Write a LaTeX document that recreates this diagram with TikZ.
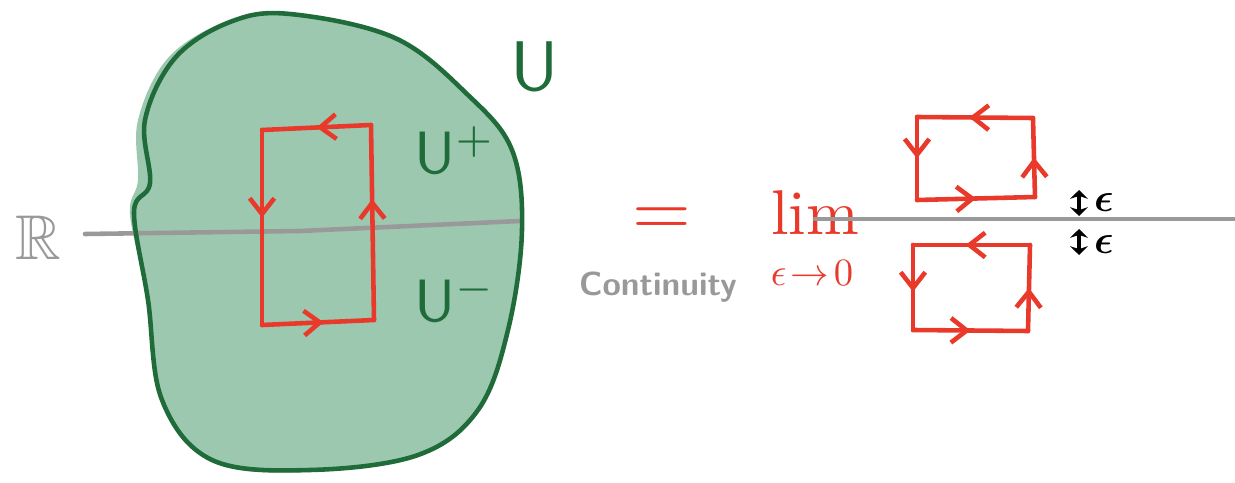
\documentclass[tikz,border=0pt]{standalone}
\usepackage{amssymb,bm}
\usetikzlibrary{arrows.meta,decorations.markings}
\definecolor{blobfill}{HTML}{9CC8B0}
\definecolor{blobline}{HTML}{1F6B3A}
\definecolor{redink}{HTML}{E8392B}
\definecolor{grayink}{HTML}{999999}
\tikzset{
  redloop/.style={draw=redink,line width=2.6pt,line cap=round,line join=round},
  midarrow/.style={postaction={decorate},decoration={markings,
     mark=at position #1 with {\arrow{Straight Barb[length=9pt,width=14pt,line width=2.6pt]}}}},
  grayline/.style={draw=grayink,line width=2.6pt,line cap=round},
  epsarrow/.style={line width=2.2pt,{Stealth[length=5pt,width=10pt]}-{Stealth[length=5pt,width=10pt]}},
  lbl/.style={inner sep=0pt,outer sep=0pt}
}
\begin{document}
\begin{tikzpicture}[x=0.02cm,y=-0.02cm]
\useasboundingbox (0,0) rectangle (1235,483);
% blob fill (slightly offset)
\fill[blobfill] plot[smooth cycle,tension=0.6] coordinates {
 (285,14) (395,38) (468,95) (512,150) (522,230) (508,330) (478,410) (418,455)
 (310,472) (212,462) (162,400) (148,300) (130,215) (138,180) (138,120) (168,58) (225,22)};
% grey line R (left)
\draw[grayline] (85,234) -- (300,231) -- (520,221);
% blob outline
\draw[blobline,line width=2.6pt,line join=round] plot[smooth cycle,tension=0.6] coordinates {
 (290,14) (395,38) (468,95) (512,150) (522,230) (508,330) (478,410) (418,455)
 (310,470) (212,460) (162,400) (148,300) (134,212) (150,183) (145,120) (175,58) (230,22)};
% R label
\node[lbl,text=grayink,scale=3.6] (Rlab) at (38,238) {$\mathbb{R}$};
% U labels
\node[lbl,text=blobline,scale=4] (U) at (535,66) {$\mathsf{U}$};
\node[lbl,text=blobline,scale=3.4] (Uplus) at (455,150) {$\mathsf{U}^{+}$};
\node[lbl,text=blobline,scale=3.4] (Uminus) at (455,298) {$\mathsf{U}^{-}$};
% left red loop
\coordinate (a1) at (262,130); \coordinate (a2) at (262,325);
\coordinate (a3) at (374,320); \coordinate (a4) at (371,125);
\draw[redloop,midarrow=0.5] (a4) -- (a1);
\draw[redloop,midarrow=0.45] (a1) -- (a2);
\draw[redloop,midarrow=0.55] (a2) -- (a3);
\draw[redloop,midarrow=0.62] (a3) -- (a4);
% equals
\node[lbl,text=redink,scale=4.3] (eq) at (662,222) {$=$};
\node[lbl,text=grayink,font=\sffamily\bfseries,scale=1.9] (cont) at (658,287) {Continuity};
% lim
\node[lbl,text=redink,scale=3.6] (lim) at (815,213) {lim};
\node[lbl,text=redink,scale=2.2] (eps0) at (812,273) {$\epsilon\!\to\!0$};
% right grey line
\draw[grayline] (815,219) -- (1235,219);
% upper loop
\coordinate (b1) at (917,117); \coordinate (b2) at (917,200);
\coordinate (b3) at (1035,197); \coordinate (b4) at (1033,118);
\draw[redloop,midarrow=0.55] (b4) -- (b1);
\draw[redloop,midarrow=0.5] (b1) -- (b2);
\draw[redloop,midarrow=0.5] (b2) -- (b3);
\draw[redloop,midarrow=0.5] (b3) -- (b4);
% lower loop
\coordinate (c1) at (913,245); \coordinate (c2) at (913,330);
\coordinate (c3) at (1028,331); \coordinate (c4) at (1030,245);
\draw[redloop,midarrow=0.55] (c4) -- (c1);
\draw[redloop,midarrow=0.55] (c1) -- (c2);
\draw[redloop,midarrow=0.5] (c2) -- (c3);
\draw[redloop,midarrow=0.5] (c3) -- (c4);
% epsilon markers
\coordinate (e1t) at (1079,190); \coordinate (e1b) at (1079,216);
\draw[epsarrow] (e1t) -- (e1b);
\node[lbl,scale=2.3] (eps1) at (1104,203) {$\bm{\epsilon}$};
\coordinate (e2t) at (1079,229); \coordinate (e2b) at (1079,255);
\draw[epsarrow] (e2t) -- (e2b);
\node[lbl,scale=2.3] (eps2) at (1104,245) {$\bm{\epsilon}$};
\end{tikzpicture}
\end{document}
